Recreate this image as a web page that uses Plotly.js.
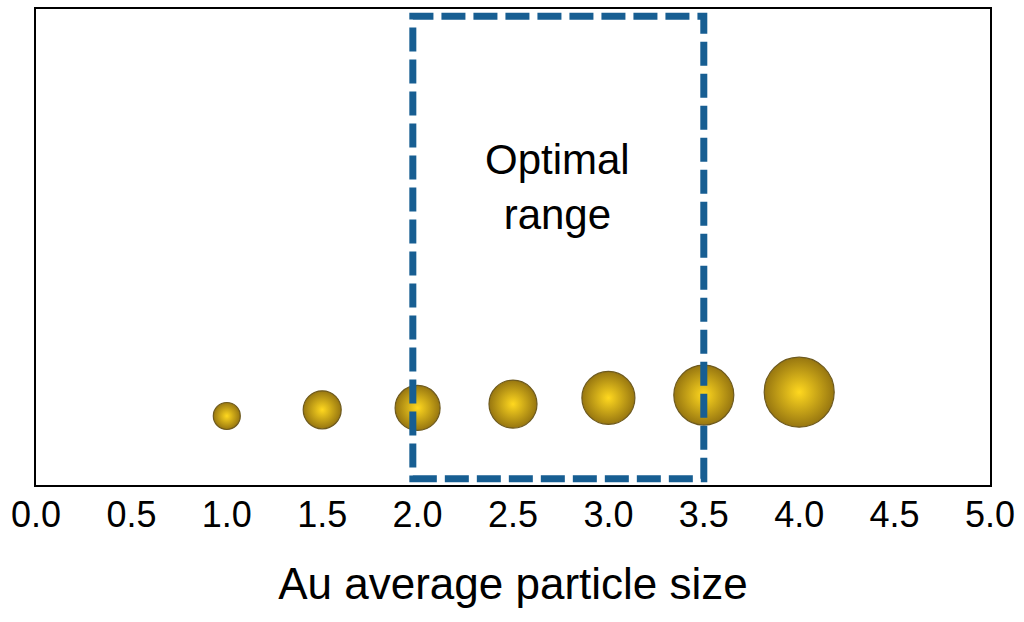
<!DOCTYPE html>
<html>
<head>
<meta charset="utf-8">
<script src="https://cdn.plot.ly/plotly-3.0.1.min.js"></script>
<style>html,body{margin:0;padding:0;background:#fff;}#chart{width:1024px;height:622px;}</style>
</head>
<body>
<div id="chart"></div>
<script>
// Particle sizes (x) and their drawn vertical level / sphere diameters
var particleSize = [1.0, 1.5, 2.0, 2.5, 3.0, 3.5, 4.0];
var particleLevel = [0.145, 0.158, 0.162, 0.170, 0.183, 0.189, 0.195];
var sphereDiameter = [27, 38, 45, 48, 53, 60, 70];
var tickValues = [0, 0.5, 1, 1.5, 2, 2.5, 3, 3.5, 4, 4.5, 5];
var tickLabels = ["0.0","0.5","1.0","1.5","2.0","2.5","3.0","3.5","4.0","4.5","5.0"];
var optimalRange = [2.0, 3.5];
var optimalLabel = "Optimal<br>range";
var xTitle = "Au average particle size";

var spheres = {
  type: 'scatter', mode: 'markers',
  x: particleSize, y: particleLevel,
  marker: {
    size: sphereDiameter,
    color: '#977610',
    opacity: 1,
    gradient: {type: 'radial', color: '#ffd81f'},
    line: {color: '#6e5a1e', width: 1.2}
  },
  hoverinfo: 'skip', showlegend: false
};

var layout = {
  width: 1024, height: 622,
  margin: {l: 36, r: 34, t: 9, b: 137},
  paper_bgcolor: '#fff', plot_bgcolor: '#fff',
  font: {family: 'Liberation Sans, Arial, sans-serif', color: '#000'},
  xaxis: {
    range: [0, 5], tickvals: tickValues, ticktext: tickLabels,
    tickfont: {size: 36}, showgrid: false, zeroline: false,
    showline: true, mirror: true, linecolor: '#000', linewidth: 2,
    ticks: '', ticklabelstandoff: -3,
    title: {text: xTitle, font: {size: 44}, standoff: 34}
  },
  yaxis: {
    range: [0, 1], showticklabels: false, showgrid: false, zeroline: false,
    showline: true, mirror: true, linecolor: '#000', linewidth: 2, ticks: ''
  },
  shapes: [{
    type: 'rect', xref: 'x', yref: 'y',
    x0: optimalRange[0] - 0.025, x1: optimalRange[1],
    y0: 0.013, y1: 0.985,
    line: {color: '#175e92', width: 7, dash: '24px,8px'},
    fillcolor: 'rgba(0,0,0,0)', layer: 'above'
  }],
  annotations: [{
    x: (optimalRange[0] + optimalRange[1]) / 2 - 0.015, y: 0.626,
    xref: 'x', yref: 'y', text: optimalLabel, showarrow: false,
    font: {size: 42, color: '#000'}, align: 'center'
  }]
};

Plotly.newPlot('chart', [spheres], layout, {staticPlot: true, displayModeBar: false});
</script>
</body>
</html>
